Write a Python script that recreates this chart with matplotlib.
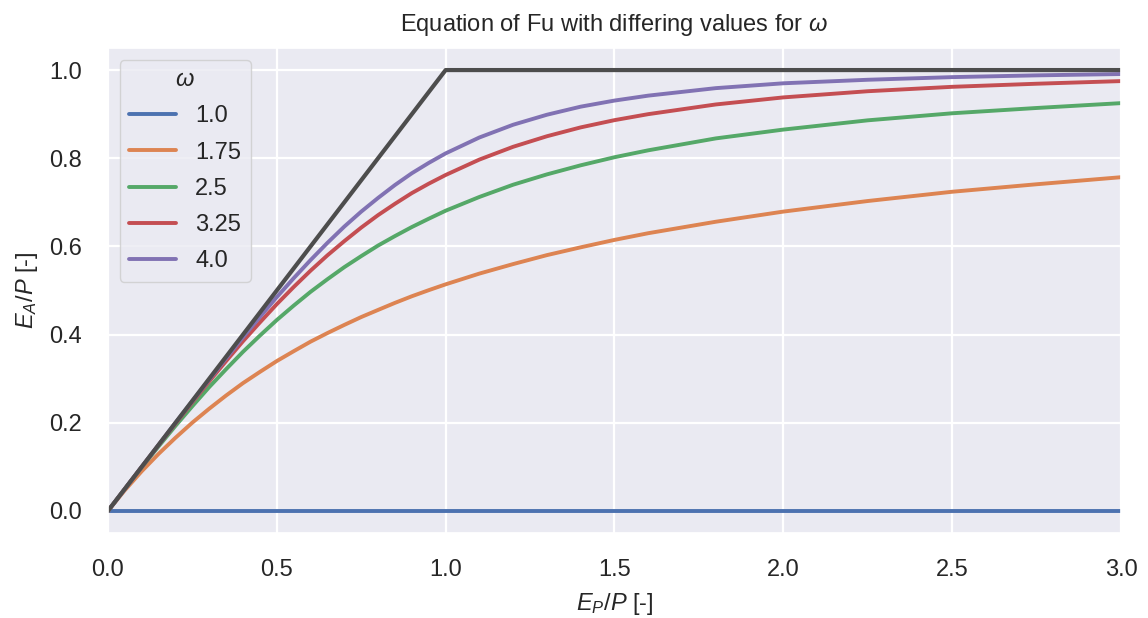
import numpy as np
import matplotlib
matplotlib.use('Agg')
import matplotlib.pyplot as plt
import seaborn as sns

# values (E_P/P on x, E_A/P on y)
ep_p = [0.0, 0.05, 0.1, 0.15, 0.2, 0.25, 0.3, 0.35, 0.4, 0.45, 0.5, 0.55,
        0.6, 0.65, 0.7, 0.75, 0.8, 0.85, 0.9, 0.95, 1.0, 1.1, 1.2, 1.3,
        1.4, 1.5, 1.6, 1.8, 2.0, 2.25, 2.5, 2.75, 3.0]

omegas = ['1.0', '1.75', '2.5', '3.25', '4.0']

ea_w100 = [0.0] * len(ep_p)
ea_w175 = [0.0, 0.047, 0.090, 0.1295, 0.166, 0.2004, 0.232, 0.2619, 0.290,
           0.3154, 0.340, 0.3623, 0.384, 0.4035, 0.422, 0.4398, 0.456, 0.4720,
           0.487, 0.5008, 0.514, 0.5384, 0.560, 0.5803, 0.598, 0.6148, 0.630,
           0.656, 0.679, 0.703, 0.724, 0.741, 0.757]
ea_w250 = [0.0, 0.050, 0.099, 0.1465, 0.193, 0.2376, 0.281, 0.3216, 0.361,
           0.3977, 0.433, 0.4657, 0.497, 0.5256, 0.553, 0.5780, 0.602, 0.6235,
           0.644, 0.6628, 0.681, 0.7122, 0.740, 0.7634, 0.784, 0.8023, 0.818,
           0.845, 0.865, 0.886, 0.902, 0.914, 0.925]
ea_w325 = [0.0, 0.050, 0.100, 0.1494, 0.198, 0.2466, 0.294, 0.3400, 0.385,
           0.4276, 0.469, 0.5079, 0.545, 0.5798, 0.612, 0.6427, 0.671, 0.6967,
           0.721, 0.7423, 0.762, 0.7970, 0.826, 0.8499, 0.870, 0.8864, 0.900,
           0.922, 0.938, 0.952, 0.962, 0.969, 0.975]
ea_w400 = [0.0, 0.050, 0.100, 0.1499, 0.200, 0.2490, 0.298, 0.3463, 0.394,
           0.4399, 0.485, 0.5279, 0.569, 0.6081, 0.645, 0.6789, 0.710, 0.7393,
           0.766, 0.7894, 0.811, 0.8471, 0.876, 0.8987, 0.917, 0.9308, 0.942,
           0.959, 0.970, 0.978, 0.984, 0.988, 0.991]

# upper limit line
limit_x = [0.0, 1.0, 3.0]
limit_y = [0.0, 1.0, 1.0]

sns.set_theme(style='darkgrid', rc={'grid.linewidth': 1.6})
plt.rcParams['font.family'] = ['Liberation Sans', 'DejaVu Sans']
plt.rcParams['mathtext.fontset'] = 'custom'
plt.rcParams['mathtext.rm'] = 'Liberation Sans'
plt.rcParams['mathtext.it'] = 'Liberation Sans:italic'

fig = plt.figure(figsize=(11.48, 6.18), dpi=100)
ax = fig.add_axes([0.094, 0.1375, 0.8825, 0.7848])

series = [ea_w100, ea_w175, ea_w250, ea_w325, ea_w400]
for w, ys in zip(omegas, series):
    ax.plot(ep_p, ys, lw=2.8, label=w)
ax.plot(limit_x, limit_y, color='#4d4d4d', lw=3)

ax.set_xlim(0, 3)
ax.set_ylim(-0.05, 1.05)
ax.tick_params(labelsize=17, pad=13)
ax.set_title('Equation of Fu with differing values for $\\omega$', fontsize=17, pad=12)
ax.set_xlabel('$E_P/P$ [-]', fontsize=17, labelpad=7)
ax.set_ylabel('$E_A/P$ [-]', fontsize=17, labelpad=6)
leg = ax.legend(title='$\\omega$', fontsize=17, title_fontsize=17, loc='upper left',
                labelspacing=0.6)

fig.savefig('out.png', dpi=100)
